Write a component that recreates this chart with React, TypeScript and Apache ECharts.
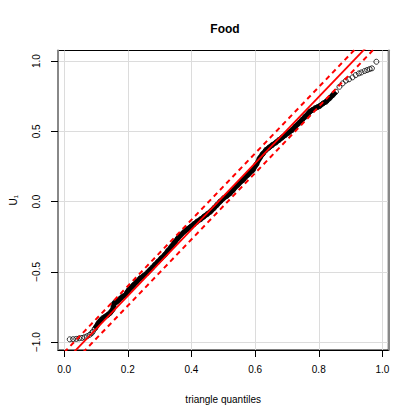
import React, { useEffect, useRef } from "react";
import * as echarts from "echarts";

const TITLE = "Food";
const X_LABEL = "triangle quantiles";
const Y_LABEL = "U₁";
const X_TICKS = [0, 0.2, 0.4, 0.6, 0.8, 1.0];
const Y_TICKS = [-1, -0.5, 0, 0.5, 1];
const X_RANGE = [-0.0194, 1.0185];
const Y_RANGE = [-1.056, 1.075];

// theoretical triangle quantiles (x) and sorted sample values U1 (y)
const QUANTILES = [
  0.0175, 0.028, 0.038, 0.047, 0.056, 0.064, 0.072, 0.08, 0.086, 0.09,
  0.096, 0.101, 0.106, 0.111, 0.116, 0.121, 0.129, 0.137, 0.145, 0.152,
  0.155, 0.157, 0.162, 0.167, 0.175, 0.183, 0.193, 0.198, 0.203, 0.211,
  0.218, 0.228, 0.239, 0.25, 0.26, 0.268, 0.275, 0.285, 0.295, 0.305,
  0.316, 0.326, 0.337, 0.347, 0.357, 0.367, 0.378, 0.388, 0.398, 0.408,
  0.418, 0.429, 0.439, 0.449, 0.46, 0.47, 0.48, 0.49, 0.501, 0.511,
  0.521, 0.531, 0.546, 0.562, 0.577, 0.593, 0.604, 0.614, 0.624, 0.634,
  0.644, 0.654, 0.665, 0.675, 0.685, 0.695, 0.705, 0.716, 0.726, 0.737,
  0.747, 0.757, 0.765, 0.772, 0.78, 0.788, 0.796, 0.803, 0.814, 0.823,
  0.834, 0.844, 0.854, 0.865, 0.875, 0.885, 0.895, 0.906, 0.916, 0.926,
  0.934, 0.944, 0.952, 0.96, 0.967, 0.981,
];
const SAMPLE = [
  -0.98, -0.979, -0.977, -0.973, -0.97, -0.965, -0.958, -0.948, -0.937, -0.925,
  -0.905, -0.889, -0.87, -0.854, -0.842, -0.83, -0.818, -0.806, -0.79, -0.77,
  -0.745, -0.723, -0.716, -0.711, -0.693, -0.676, -0.664, -0.645, -0.628, -0.61,
  -0.593, -0.57, -0.545, -0.527, -0.509, -0.49, -0.474, -0.45, -0.427, -0.403,
  -0.379, -0.35, -0.32, -0.29, -0.261, -0.236, -0.213, -0.195, -0.178, -0.16,
  -0.142, -0.125, -0.107, -0.09, -0.071, -0.048, -0.024, 0.0, 0.024, 0.04,
  0.059, 0.083, 0.12, 0.154, 0.19, 0.225, 0.265, 0.308, 0.34, 0.367,
  0.385, 0.403, 0.42, 0.438, 0.456, 0.474, 0.49, 0.509, 0.533, 0.557,
  0.58, 0.604, 0.622, 0.64, 0.652, 0.664, 0.672, 0.68, 0.699, 0.711,
  0.735, 0.758, 0.782, 0.817, 0.841, 0.86, 0.87, 0.884, 0.9, 0.912,
  0.919, 0.929, 0.936, 0.943, 0.948, 0.995,
];

// reference line and its band
const REF_INTERCEPT = -1.143;
const REF_SLOPE = 2.36;
const BAND_HALF_WIDTH = 0.07;

// region where the points overlap into a solid band
const DENSE_FROM = 0.095;
const DENSE_TO = 0.86;

const FONT = "'Liberation Sans', Arial, Helvetica, sans-serif";

const fmtTick = (v: number) => {
  const s = Math.abs(v).toFixed(1);
  return v < -1e-9 ? "\u2212" + s : s;
};

export default function App() {
  const ref = useRef<HTMLDivElement>(null);

  useEffect(() => {
    if (!ref.current) return;
    const chart = echarts.init(ref.current, undefined, { renderer: "svg" });

    const points = QUANTILES.map((x, i) => [x, SAMPLE[i]]);
    const dense = points.filter((p) => p[0] >= DENSE_FROM && p[0] <= DENSE_TO);
    const refLine = (offset: number) =>
      X_RANGE.map((x) => [x, REF_INTERCEPT + offset + REF_SLOPE * x]);

    chart.setOption({
      animation: false,
      backgroundColor: "#ffffff",
      title: {
        text: TITLE,
        left: 220,
        top: 18,
        textAlign: "center",
        textStyle: { fontFamily: FONT, fontSize: 12, fontWeight: "bold", color: "#000" },
      },
      grid: {
        left: 51,
        right: 26.7,
        top: 50.5,
        bottom: 64,
        show: true,
        borderColor: "#000",
        borderWidth: 1,
        backgroundColor: "transparent",
      },
      xAxis: {
        type: "value",
        min: X_RANGE[0],
        max: X_RANGE[1],
        axisLine: { show: true, onZero: false, lineStyle: { color: "#000", width: 1 } },
        axisTick: { show: true, length: 7, lineStyle: { color: "#000" }, customValues: X_TICKS },
        axisLabel: {
          customValues: X_TICKS,
          formatter: (v: number) => fmtTick(v),
          margin: 14,
          fontSize: 10,
          fontFamily: FONT,
          color: "#000",
        },
        splitLine: { show: true, lineStyle: { color: "#dcdcdc", width: 1 } },
        name: X_LABEL,
        nameLocation: "middle",
        nameGap: 44,
        nameTextStyle: { fontFamily: FONT, fontSize: 10, color: "#000" },
      },
      yAxis: [
        {
          type: "value",
          min: Y_RANGE[0],
          max: Y_RANGE[1],
          position: "left",
          axisLine: { show: true, onZero: false, lineStyle: { color: "#888", width: 2 } },
          axisTick: { show: true, length: 7, lineStyle: { color: "#000" }, customValues: Y_TICKS },
          axisLabel: {
            customValues: Y_TICKS,
            formatter: (v: number) => fmtTick(v),
            rotate: 90,
            margin: 17,
            fontSize: 10,
            fontFamily: FONT,
            color: "#000",
          },
          splitLine: { show: true, lineStyle: { color: "#dcdcdc", width: 1 } },
          name: Y_LABEL,
          nameLocation: "middle",
          nameRotate: 90,
          nameGap: 40,
          nameTextStyle: { fontFamily: FONT, fontSize: 10, color: "#000" },
        },
        {
          type: "value",
          min: Y_RANGE[0],
          max: Y_RANGE[1],
          position: "right",
          axisLine: { show: true, onZero: false, lineStyle: { color: "#888", width: 2 } },
          axisTick: { show: false },
          axisLabel: { show: false },
          splitLine: { show: false },
        },
      ],
      series: [
        {
          type: "line",
          data: dense,
          showSymbol: false,
          symbol: "none",
          lineStyle: { color: "#000", width: 5 },
          z: 2,
          silent: true,
        },
        {
          type: "scatter",
          data: points,
          symbol: "circle",
          symbolSize: 5,
          itemStyle: { color: "rgba(0,0,0,0)", borderColor: "#000", borderWidth: 1 },
          z: 3,
          silent: true,
        },
        {
          type: "line",
          data: refLine(0),
          symbol: "none",
          clip: true,
          lineStyle: { color: "#ff0000", width: 1.8 },
          z: 4,
          silent: true,
        },
        {
          type: "line",
          data: refLine(BAND_HALF_WIDTH),
          symbol: "none",
          clip: true,
          lineStyle: { color: "#ff0000", width: 2, type: [5, 4] },
          z: 4,
          silent: true,
        },
        {
          type: "line",
          data: refLine(-BAND_HALF_WIDTH),
          symbol: "none",
          clip: true,
          lineStyle: { color: "#ff0000", width: 2, type: [5, 4] },
          z: 4,
          silent: true,
        },
      ],
    });

    return () => chart.dispose();
  }, []);

  return (
    <div
      ref={ref}
      style={{ position: "fixed", left: 0, top: 0, width: 415, height: 414, background: "#fff" }}
    />
  );
}
